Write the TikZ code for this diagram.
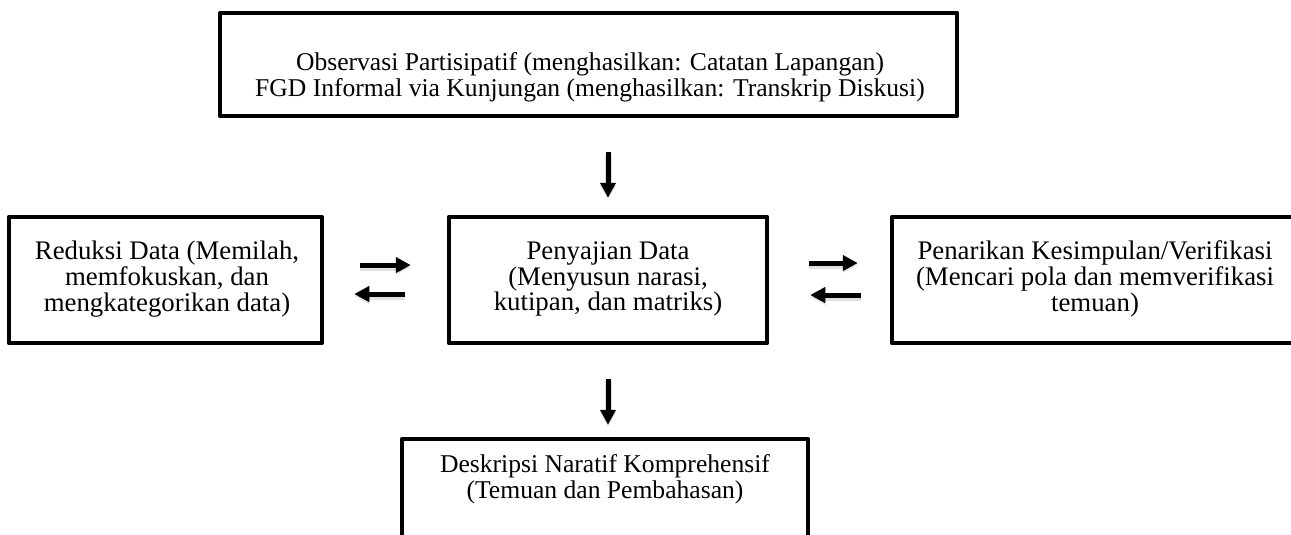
\documentclass[tikz,border=0pt]{standalone}
\usepackage{fontspec}
\setmainfont{Liberation Serif}
\usetikzlibrary{arrows.meta,calc}
\begin{document}
\begin{tikzpicture}[x=1pt,y=-1pt,
  box/.style={draw=black, line width=4.5pt, rectangle, inner sep=0pt, line join=round},
  txt/.style={align=center, inner sep=0pt, font=\fontsize{26.8}{25.8}\selectfont},
  txts/.style={align=center, inner sep=0pt, font=\fontsize{25.6}{25.5}\selectfont},
  arr/.style={line width=5pt, -{Triangle[length=15pt,width=15pt]},
    preaction={draw=black, draw opacity=0.12, line width=7pt, transform canvas={yshift=-2pt}}}
]
\useasboundingbox (0,0) rectangle (1291,535);

% boxes
\node[box, minimum width=737pt, minimum height=103pt] (top) at (588.5,64.5) {};
\node[box, minimum width=313pt, minimum height=126pt] (red) at (165.5,280) {};
\node[box, minimum width=318pt, minimum height=126pt] (mid) at (608,280) {};
\node[box, minimum width=406pt, minimum height=126pt] (ver) at (1095,280) {};
\node[box, minimum width=406pt, minimum height=126pt] (desk) at (605,502) {};

% texts
\node[txts] (toptxt) at (590,77) {Observasi Partisipatif (menghasilkan: Catatan Lapangan)\\FGD Informal via Kunjungan (menghasilkan: Transkrip Diskusi)};
\node[txt] (redtxt) at (167,279) {Reduksi Data (Memilah,\\memfokuskan, dan\\mengkategorikan data)};
\node[txt] (midtxt) at (608,279) {Penyajian Data\\(Menyusun narasi,\\kutipan, dan matriks)};
\node[txt] (vertxt) at (1095,279) {Penarikan Kesimpulan/Verifikasi\\(Mencari pola dan memverifikasi\\temuan)};
\node[txts] (desktxt) at (605,479) {Deskripsi Naratif Komprehensif\\(Temuan dan Pembahasan)};

% connectors
\draw[arr, shorten <=34pt, shorten >=17pt] (mid.north |- top.south) -- (mid.north);
\draw[arr, shorten <=34pt, shorten >=12pt] (mid.south) -- (mid.south |- desk.north);
\draw[arr, shorten <=36pt, shorten >=36pt] ($(red.east)+(0,-15)$) -- ($(mid.west)+(0,-15)$);
\draw[arr, shorten <=42pt, shorten >=30pt] ($(mid.west)+(0,14)$) -- ($(red.east)+(0,14)$);
\draw[arr, shorten <=40pt, shorten >=32pt] ($(mid.east)+(0,-17)$) -- ($(ver.west)+(0,-17)$);
\draw[arr, shorten <=29pt, shorten >=41pt] ($(ver.west)+(0,15)$) -- ($(mid.east)+(0,15)$);
\end{tikzpicture}
\end{document}
